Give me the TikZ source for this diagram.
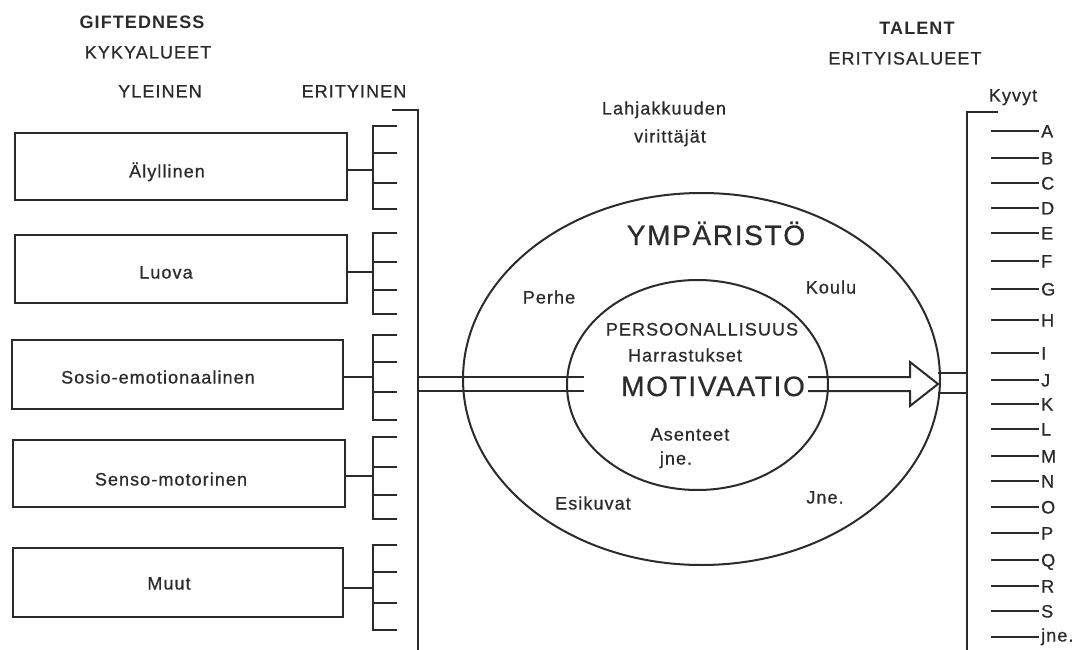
\documentclass[tikz,border=0pt]{standalone}
\usepackage{fontspec}
\setmainfont{Liberation Sans}[LetterSpace=6, UprightFeatures={FakeBold=0.7}]
\usetikzlibrary{shapes.geometric}
\definecolor{ink}{HTML}{2B2B2B}
\tikzset{
  wire/.style={draw=ink, line width=2.3pt, line cap=rect},
  thin wire/.style={draw=ink, line width=2pt},
  area/.style={draw=ink, line width=2.5pt, rectangle, inner sep=0pt, outer sep=0pt},
  ring/.style={draw=ink, line width=2pt, ellipse, inner sep=0pt, outer sep=0pt},
  lab/.style={font=\fontsize{18}{20}\selectfont, text=ink, inner sep=0pt, text height=13pt, text depth=0pt},
  head/.style={lab, font=\bfseries\fontsize{18}{20}\selectfont},
  big/.style={lab, font=\fontsize{28}{30}\selectfont, text height=20pt},
  letter/.style={lab, anchor=west}
}
\begin{document}
\begin{tikzpicture}[x=1pt, y=-1pt]
\useasboundingbox (0,0) rectangle (1080,650);

% headings, left side
\node[head] (gift) at (142,22) {GIFTEDNESS};
\node[lab]  (kyky) at (148,52) {KYKYALUEET};
\node[lab]  (yle)  at (160,91) {YLEINEN};
\node[lab]  (eri)  at (354,91) {ERITYINEN};

% headings, middle and right side
\node[lab] (lahja) at (664,108) {Lahjakkuuden};
\node[lab] (virit) at (670,136) {virittäjät};
\node[head] (talent) at (917,28) {TALENT};
\node[lab]  (erityis) at (905,58) {ERITYISALUEET};
\node[lab]  (kyvyt) at (1013,95) {Kyvyt};

% general ability domains
\node[area, minimum width=332pt, minimum height=67pt] (b1) at (181,166.5) {};
\node[area, minimum width=332pt, minimum height=68pt] (b2) at (181,269) {};
\node[area, minimum width=331pt, minimum height=69pt] (b3) at (177.5,374.5) {};
\node[area, minimum width=332pt, minimum height=67pt] (b4) at (179,473.5) {};
\node[area, minimum width=330pt, minimum height=69pt] (b5) at (178,582.5) {};
\node[lab] (t1) at (167,171) {Älyllinen};
\node[lab] (t2) at (166,272) {Luova};
\node[lab] (t3) at (158,377) {Sosio-emotionaalinen};
\node[lab] (t4) at (171,479) {Senso-motorinen};
\node[lab] (t5) at (169,583) {Muut};

% specific sub-areas: a small bracket of four ticks for each domain
\foreach \i/\m/\ya/\yb/\yc/\yd in {1/170/126/153/183/209, 2/272/233/262/290/314,
    3/377/335/362/392/420, 4/476/437/467/495/519, 5/588/545/572/603/630}{
  \coordinate (m\i) at (373,\m);
  \draw[wire] (b\i.east |- m\i) -- (m\i);
  \draw[wire] (396,\ya) -- (373,\ya) -- (373,\yd) -- (396,\yd);
  \draw[wire] (373,\yb) -- (396,\yb);
  \draw[wire] (373,\yc) -- (396,\yc);
}

% collecting line of the specific areas
\coordinate (lt) at (393,110);
\coordinate (lc) at (418,110);
\coordinate (lb) at (418,650);
\draw[wire] (lt) -- (lc) -- (lb);

% environment and personality
\node[ring, minimum width=477pt, minimum height=372pt] (outer) at (701.5,379) {};
\node[ring, minimum width=261pt, minimum height=210pt] (inner) at (697.5,385) {};
\node[big] (ymp) at (716,235) {YMPÄRISTÖ};
\node[lab] (perhe) at (549,297) {Perhe};
\node[lab] (koulu) at (831,287) {Koulu};
\node[lab] (pers) at (702,329) {PERSOONALLISUUS};
\node[lab] (harr) at (685,355) {Harrastukset};
\node[big] (moti) at (713,386) {MOTIVAATIO};
\node[lab] (asen) at (690,434) {Asenteet};
\node[lab] (jne1) at (676,458) {jne.};
\node[lab] (esik) at (593,503) {Esikuvat};
\node[lab] (jne2) at (825,497) {Jne.};

% double line from the abilities into the motivation core
\coordinate (la1) at (418,377);
\coordinate (la2) at (418,391);
\coordinate (le1) at (584,377);
\coordinate (le2) at (584,391);
\draw[thin wire] (la1) -- (le1);
\draw[thin wire] (la2) -- (le2);

% hollow arrow from the motivation core towards the talents
\coordinate (as1) at (808,377);
\coordinate (as2) at (808,391);
\coordinate (tip) at (938,384);
\draw[thin wire, line join=miter] (as1) -- (910,377) -- (910,362) -- (tip)
  -- (910,406) -- (910,391) -- (as2);

% talents: bracket with the abilities A ... S
\coordinate (rt) at (997,112);
\coordinate (rc) at (967,112);
\coordinate (rb) at (967,650);
\draw[wire] (rt) -- (rc) -- (rb);
\coordinate (rs1) at (938,373);
\coordinate (rs2) at (938,393);
\draw[thin wire] (rs1) -- (rc |- rs1);
\draw[thin wire] (rs2) -- (rc |- rs2);

\foreach \n/\y in {A/131, B/158, C/183, D/208, E/233, F/261, G/289, H/320, I/353,
    J/380, K/404, L/429, M/456, N/481, O/507, P/533, Q/560, R/586, S/611}{
  \coordinate (k\n) at (992,\y);
  \coordinate (e\n) at (1038,\y);
  \node[letter] (l\n) at (1041,\y) {\n};
  \draw[wire] (k\n) -- (e\n);
}
\coordinate (kz) at (992,637);
\coordinate (ez) at (1038,637);
\node[letter] (lz) at (1041,635) {jne.};
\draw[wire] (kz) -- (ez);
\end{tikzpicture}
\end{document}
